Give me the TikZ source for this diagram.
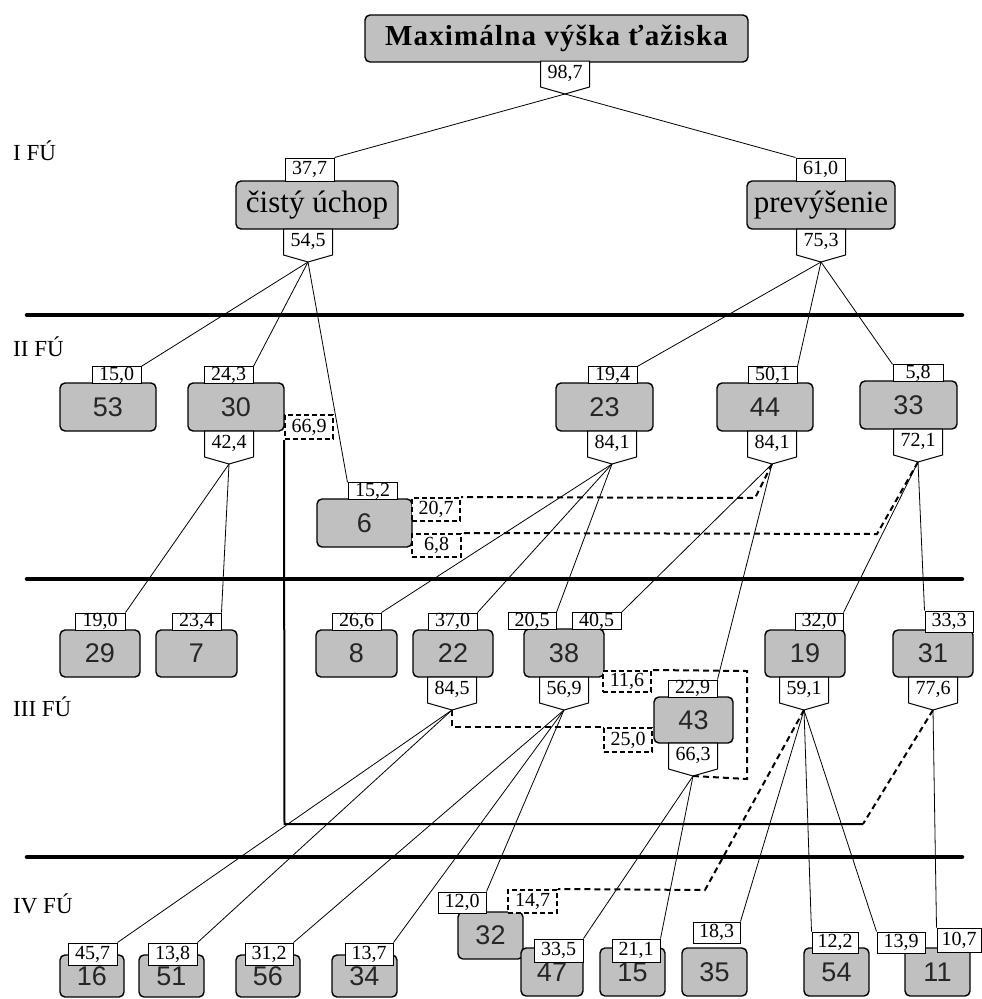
\documentclass[tikz,border=0pt]{standalone}
\usepackage{fontspec}
\setmainfont{Liberation Serif}
\newfontfamily\numfont{Liberation Sans}
\newfontfamily\titlefont[LetterSpace=4]{Liberation Serif}
\definecolor{boxgray}{HTML}{C0C0C0}
\tikzset{
  gbox/.style={draw=black, fill=boxgray, line width=1.4pt, rounded corners=5pt, inner sep=0pt,
    font=\numfont\fontsize{27}{27}\selectfont, text=black!85},
  bigbox/.style={draw=black, fill=boxgray, line width=1.4pt, rounded corners=5pt, inner sep=0pt},
  lbl/.style={draw=black, fill=white, line width=1pt, inner sep=0pt, font=\fontsize{20}{20}\selectfont},
  dlbl/.style={draw=black, fill=white, line width=2pt, dash pattern=on 5pt off 3pt, inner sep=0pt, font=\fontsize{20}{20}\selectfont},
  lblline/.style={draw=black, line width=1pt},
  lbltxt/.style={inner sep=0pt, font=\fontsize{20}{20}\selectfont},
  conn/.style={line width=0.8pt},
  dconn/.style={line width=2pt, dash pattern=on 6pt off 4pt},
  sepline/.style={line width=4.5pt, line cap=round},
  fbline/.style={line width=2pt},
  lev/.style={anchor=base west, inner sep=0pt, font=\fontsize{23}{23}\selectfont},
}
\newcommand\gbx[6]{\node[gbox, minimum width={(#4)-(#2)}, minimum height={(#5)-(#3)}] (#1) at ({((#2)+(#4))/2},{((#3)+(#5))/2}) {#6};}
\newcommand\lab[6]{\node[lbl, minimum width={(#4)-(#2)}, minimum height={(#5)-(#3)}] (#1) at ({((#2)+(#4))/2},{((#3)+(#5))/2}) {#6};}
\newcommand\dlab[6]{\node[dlbl, minimum width={(#4)-(#2)}, minimum height={(#5)-(#3)}] (#1) at ({((#2)+(#4))/2},{((#3)+(#5))/2}) {#6};}
\newcommand\outlab[4]{%
  \draw[lblline, fill=white] ({#2-24.5},#3) -- ({#2-24.5},{#3+26}) -- (#2,{#3+33}) -- ({#2+24.5},{#3+26}) -- ({#2+24.5},#3) -- cycle;
  \node[lbltxt] (#1) at (#2,{#3+12}) {#4};
  \coordinate (#1p) at (#2,{#3+33});}
\begin{document}
\begin{tikzpicture}[x=1pt,y=-1pt]
\useasboundingbox (0,0) rectangle (982,999);
% separator lines
\coordinate (s1a) at (27,315); \coordinate (s1b) at (962,315);
\coordinate (s2a) at (27,579); \coordinate (s2b) at (962,579);
\coordinate (s3a) at (27,857); \coordinate (s3b) at (962,857);
\draw[sepline] (s1a) -- (s1b);
\draw[sepline] (s2a) -- (s2b);
\draw[sepline] (s3a) -- (s3b);
% level labels
\node[lev] (lvI) at (13,160) {I FÚ};
\node[lev] (lvII) at (13,356) {II FÚ};
\node[lev] (lvIII) at (13,716) {III FÚ};
\node[lev] (lvIV) at (13,913) {IV FÚ};
% title
\node[bigbox, minimum width=383, minimum height=47] (title) at (556.5,38.5) {\titlefont\bfseries\fontsize{29}{29}\selectfont Maximálna výška ťažiska};
\outlab{o987}{565}{61}{98,7}
% level I
\node[bigbox, minimum width=162, minimum height=48] (cu) at (317,205) {\fontsize{31}{31}\selectfont čistý úchop};
\lab{l377}{285}{158}{334}{181}{37,7}
\outlab{o545}{308}{229}{54,5}
\node[bigbox, minimum width=148, minimum height=48] (pr) at (821,205) {\fontsize{31}{31}\selectfont prevýšenie};
\lab{l610}{796}{158}{845}{181}{61,0}
\outlab{o753}{821}{229}{75,3}
% level II
\gbx{b53}{60}{383}{156}{431}{53}
\lab{l150}{92}{367}{141}{383}{15,0}
\gbx{b30}{188}{383}{284}{431}{30}
\lab{l243}{204}{367}{253}{383}{24,3}
\outlab{o424}{229}{431}{42,4}
\dlab{l669}{285}{415}{333}{439}{66,9}
\gbx{b6}{317}{499}{412}{547}{6}
\lab{l152}{348}{483}{397}{499}{15,2}
\dlab{l207}{412}{498}{460}{521}{20,7}
\dlab{l68}{412}{534}{461}{557}{6,8}
\gbx{b23}{556}{383}{653}{431}{23}
\lab{l194}{588}{367}{637}{383}{19,4}
\outlab{o841a}{612}{431}{84,1}
\gbx{b44}{717}{383}{813}{431}{44}
\lab{l501}{748}{367}{797}{383}{50,1}
\outlab{o841b}{772}{431}{84,1}
\gbx{b33}{860}{381}{957}{429}{33}
\lab{l58}{893}{365}{943}{381}{5,8}
\outlab{o721}{918}{429}{72,1}
% level III
\gbx{b29}{60}{630}{140}{677}{29}
\lab{l190}{75}{613}{125}{630}{19,0}
\gbx{b7}{156}{630}{237}{677}{7}
\lab{l234}{172}{613}{221}{630}{23,4}
\gbx{b8}{316}{630}{397}{677}{8}
\lab{l266}{332}{613}{381}{630}{26,6}
\gbx{b22}{413}{630}{493}{677}{22}
\lab{l370}{428}{613}{477}{630}{37,0}
\outlab{o845}{452}{677}{84,5}
\gbx{b38}{524}{629}{604}{677}{38}
\lab{l205}{508}{613}{556}{629}{20,5}
\lab{l405}{572}{613}{621}{629}{40,5}
\outlab{o569}{564}{677}{56,9}
\dlab{l116}{603}{671}{651}{692}{11,6}
\gbx{b43}{654}{697}{733}{743}{43}
\lab{l229}{668}{680}{717}{697}{22,9}
\outlab{o663}{693}{743}{66,3}
\dlab{l250}{604}{728}{652}{752}{25,0}
\gbx{b19}{765}{630}{845}{677}{19}
\lab{l320}{795}{613}{843}{630}{32,0}
\outlab{o591}{804}{677}{59,1}
\gbx{b31}{893}{630}{973}{677}{31}
\lab{l333}{925}{611}{973}{632}{33,3}
\outlab{o776}{933}{677}{77,6}
% level IV
\gbx{b16}{60}{955}{124}{997}{16}
\lab{l457}{68}{943}{117}{965}{45,7}
\gbx{b51}{139}{955}{204}{997}{51}
\lab{l138}{148}{943}{197}{965}{13,8}
\gbx{b56}{236}{955}{300}{997}{56}
\lab{l312}{245}{943}{293}{965}{31,2}
\gbx{b34}{332}{955}{397}{997}{34}
\lab{l137}{345}{943}{393}{965}{13,7}
\gbx{b32}{458}{912}{523}{959}{32}
\lab{l120}{438}{892}{486}{913}{12,0}
\dlab{l147}{508}{890}{557}{913}{14,7}
\gbx{b47}{521}{948}{583}{996}{47}
\lab{l335}{534}{939}{583}{962}{33,5}
\gbx{b15}{600}{948}{665}{996}{15}
\lab{l211}{612}{939}{660}{962}{21,1}
\gbx{b35}{682}{948}{747}{996}{35}
\lab{l183}{693}{922}{740}{943}{18,3}
\gbx{b54}{804}{948}{869}{996}{54}
\lab{l122}{812}{932}{858}{953}{12,2}
\gbx{b11}{905}{948}{970}{996}{11}
\lab{l139}{877}{932}{925}{953}{13,9}
\lab{l107}{937}{928}{981}{952}{10,7}
% bend coordinates
\coordinate (k207) at (755,498);
\coordinate (k68) at (877,534);
\coordinate (k116a) at (747,779);
\coordinate (k116b) at (747,671);
\coordinate (k147) at (705,890);
\coordinate (fb1) at (284.5,824);
\coordinate (fb2) at (863,824);
% connectors
\draw[conn] (o987p) -- (l377.north east);
\draw[conn] (o987p) -- (l610.north west);
\draw[conn] (o545p) -- (l150.north east);
\draw[conn] (o545p) -- (l243.north east);
\draw[conn] (o545p) -- (l152.north west);
\draw[conn] (o753p) -- (l194.north east);
\draw[conn] (o753p) -- (l501.north east);
\draw[conn] (o753p) -- (l58.north west);
\draw[conn] (o424p) -- (l190.north east);
\draw[conn] (o424p) -- (l234.north east);
\draw[conn] (o841ap) -- (l266.north east);
\draw[conn] (o841ap) -- (l370.north east);
\draw[conn] (o841ap) -- (l205.north east);
\draw[conn] (o841bp) -- (l405.north east);
\draw[conn] (o841bp) -- (l229.north east);
\draw[conn] (o721p) -- (l320.north east);
\draw[conn] (o721p) -- (l333.north west);
\draw[conn] (o845p) -- (l457.north east);
\draw[conn] (o845p) -- (l138.north east);
\draw[conn] (o569p) -- (l312.north east);
\draw[conn] (o569p) -- (l137.north east);
\draw[conn] (o569p) -- (l120.north east);
\draw[conn] (o663p) -- (l335.north east);
\draw[conn] (o663p) -- (l211.north east);
\draw[conn] (o591p) -- (l183.north east);
\draw[conn] (o591p) -- (l122.north west);
\draw[conn] (o591p) -- (l139.north west);
\draw[conn] (o776p) -- (l107.north west);
% dashed feedback connectors
\draw[dconn] (o841bp) -- (k207) -- (l207.north east);
\draw[dconn] (o721p) -- (k68) -- (l68.north east);
\draw[dconn] (o845p) |- (l250.north west);
\draw[dconn] (o663p) -- (k116a) -- (k116b) -- (l116.north east);
\draw[dconn] (o591p) -- (k147) -- (l147.north east);
\draw[dconn] (o776p) -- (fb2);
\draw[fbline] (fb2) -- (fb1) -- (l669.south west);
\end{tikzpicture}
\end{document}
